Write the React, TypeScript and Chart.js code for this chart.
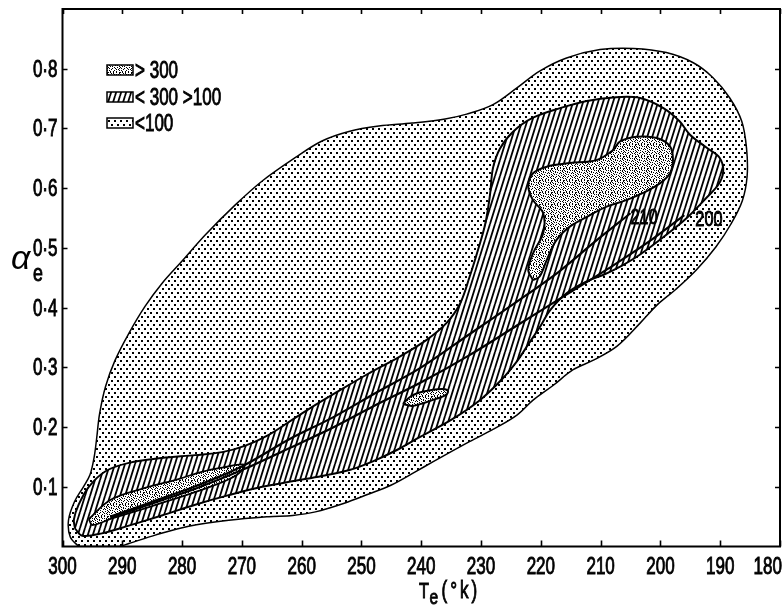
import React, { useEffect, useRef } from "react";
import { Chart, registerables } from "chart.js";

Chart.register(...registerables);

type Pt = [number, number]; // [T_e (K), alpha_e]

// Axis ticks
const T_TICKS = [300, 290, 280, 270, 260, 250, 240, 230, 220, 210, 200, 190, 180];
const ALPHA_TICKS = [0.1, 0.2, 0.3, 0.4, 0.5, 0.6, 0.7, 0.8];
const ALPHA_TICK_LABELS = ["0·1", "0·2", "0·3", "0·4", "0·5", "0·6", "0·7", "0·8"];

const LEGEND_LABELS = ["> 300", "< 300 >100", "<100"];
const LINE_LABELS = ["210", "200"];

// Outer contour: region of fewer than 100 counts
const OUTER_LT100: Pt[] = [
  [297.3, 0.0], [298.7, 0.016], [299.0, 0.044], [298.0, 0.075], [296.5, 0.1],
  [295.4, 0.12], [294.7, 0.15], [294.3, 0.18], [293.8, 0.222], [292.8, 0.268],
  [291.2, 0.312], [288.9, 0.357], [286.2, 0.402], [283.4, 0.44], [280.0, 0.478],
  [276.1, 0.522], [271.1, 0.572], [266.6, 0.612], [261.1, 0.651], [256.6, 0.679],
  [252.1, 0.695], [247.1, 0.704], [241.5, 0.709], [236.0, 0.716], [232.4, 0.724],
  [228.0, 0.74], [224.0, 0.768], [220.2, 0.796], [215.7, 0.818], [210.1, 0.832],
  [204.5, 0.834], [199.0, 0.827], [194.5, 0.81], [191.2, 0.785], [188.4, 0.751],
  [186.4, 0.712], [185.6, 0.667], [185.5, 0.62], [186.3, 0.579], [188.2, 0.54],
  [190.7, 0.502], [194.0, 0.463], [197.5, 0.43], [200.5, 0.405], [203.4, 0.374],
  [207.3, 0.335], [211.2, 0.312], [214.6, 0.296], [217.9, 0.27], [221.3, 0.245],
  [224.0, 0.22], [228.0, 0.196], [232.4, 0.173], [238.0, 0.142], [241.0, 0.125],
  [245.0, 0.103], [249.0, 0.087], [253.0, 0.072], [257.7, 0.058], [261.5, 0.052],
  [265.5, 0.05], [272.2, 0.044], [278.9, 0.034], [284.5, 0.019], [288.9, 0.005],
  [290.6, 0.0], [297.3, 0.0],
];

// Band between 100 and 300 counts
const BAND_100_300: Pt[] = [
  [297.9, 0.03], [296.7, 0.018], [293.4, 0.022], [288.9, 0.035], [283.4, 0.052],
  [277.8, 0.07], [272.2, 0.086], [266.6, 0.1], [261.1, 0.11], [256.6, 0.118],
  [252.0, 0.128], [248.0, 0.143], [244.0, 0.162], [240.5, 0.182], [235.0, 0.212],
  [230.2, 0.245], [226.5, 0.28], [224.0, 0.31], [222.0, 0.34], [220.0, 0.37],
  [218.5, 0.395], [215.7, 0.424], [212.3, 0.444], [209.5, 0.455], [206.5, 0.47],
  [203.4, 0.489], [199.0, 0.522], [195.6, 0.55], [192.3, 0.584], [190.3, 0.606],
  [189.5, 0.628], [190.1, 0.651], [192.3, 0.668], [195.1, 0.69], [196.8, 0.712],
  [199.5, 0.734], [203.4, 0.751], [207.9, 0.752], [212.3, 0.746], [216.8, 0.734],
  [221.3, 0.718], [224.6, 0.695], [226.8, 0.667], [228.0, 0.634], [228.5, 0.589],
  [229.3, 0.54], [230.5, 0.497], [231.9, 0.452], [233.5, 0.407], [235.8, 0.374],
  [239.1, 0.346], [243.6, 0.318], [249.1, 0.288], [254.7, 0.255], [258.5, 0.232],
  [261.6, 0.212], [265.5, 0.187], [269.4, 0.169], [273.3, 0.158], [277.8, 0.153],
  [283.4, 0.148], [288.9, 0.14], [292.8, 0.126], [295.6, 0.1], [297.3, 0.07],
  [298.1, 0.045], [297.9, 0.03],
];

// Regions above 300 counts
const PEAK_UPPER: Pt[] = [
  [221.3, 0.446], [222.1, 0.463], [221.3, 0.491], [219.6, 0.525], [219.6, 0.558],
  [221.3, 0.58], [222.1, 0.603], [221.3, 0.625], [219.0, 0.636], [215.1, 0.642],
  [210.7, 0.647], [207.9, 0.664], [206.8, 0.678], [204.0, 0.686], [200.6, 0.684],
  [198.4, 0.67], [197.9, 0.647], [198.4, 0.625], [200.1, 0.608], [202.9, 0.592],
  [205.7, 0.58], [209.0, 0.569], [212.3, 0.552], [215.1, 0.536], [217.4, 0.513],
  [219.0, 0.48], [220.2, 0.452], [221.3, 0.446],
];

const PEAK_MIDDLE: Pt[] = [
  [243.06, 0.2387], [241.89, 0.2504], [240.56, 0.2571], [238.21, 0.2621],
  [236.37, 0.2638], [235.54, 0.2605], [235.87, 0.2538], [237.54, 0.2471],
  [239.55, 0.2404], [241.56, 0.2354], [243.06, 0.2387],
];

const PEAK_LOWER: Pt[] = [
  [295.6, 0.046], [292.0, 0.078], [286.2, 0.098], [280.6, 0.113], [276.7, 0.125],
  [273.3, 0.132], [269.6, 0.137], [270.8, 0.12], [275.0, 0.101], [280.6, 0.082],
  [286.2, 0.064], [291.7, 0.047], [295.0, 0.036], [295.6, 0.046],
];

// Reference curves labelled 210 and 200
const LINE_210: Pt[] = [
  [292, 0.05], [285, 0.075], [278, 0.1], [270, 0.134], [262, 0.18], [255, 0.215],
  [248, 0.255], [240, 0.3], [232, 0.355], [224, 0.41], [217, 0.46], [211, 0.51],
  [205, 0.558],
];
const LINE_200: Pt[] = [
  [292, 0.048], [285, 0.072], [278, 0.096], [270, 0.128], [262, 0.165], [255, 0.198],
  [248, 0.235], [240, 0.275], [232, 0.32], [224, 0.37], [216, 0.42], [208, 0.47],
  [202, 0.51], [196, 0.555],
];

// Texture bitmap for the densest region
const SPECKLE_ROWS = [
  "#.#..#..#..#",
  "...#.#.....#",
  "#.....#.#.#.",
  ".#.#......#.",
  "...#.#..#..#",
  ".#.....#.#..",
  "..#.#......#",
  "#.....#..#..",
  ".#..#..#...#",
  "...#....#.#.",
  ".#....#....#",
  "..#..#..#...",
];

const FONT = "'Liberation Sans', Arial, sans-serif";
const NARROW = 0.74;

function tile(w: number, h: number, paint: (g: CanvasRenderingContext2D) => void): HTMLCanvasElement {
  const c = document.createElement("canvas");
  c.width = w;
  c.height = h;
  const g = c.getContext("2d")!;
  g.fillStyle = "#fff";
  g.fillRect(0, 0, w, h);
  g.fillStyle = "#000";
  g.strokeStyle = "#000";
  paint(g);
  return c;
}

function narrowText(
  ctx: CanvasRenderingContext2D,
  text: string,
  x: number,
  y: number,
  size: number,
  align: CanvasTextAlign = "left",
  spacing = 0
) {
  ctx.save();
  ctx.font = `${size}px ${FONT}`;
  ctx.textAlign = align;
  ctx.textBaseline = "alphabetic";
  (ctx as any).letterSpacing = `${spacing}px`;
  ctx.translate(x, y);
  ctx.scale(NARROW, 1);
  ctx.fillStyle = "#000";
  ctx.strokeStyle = "#000";
  ctx.lineWidth = 0.9;
  ctx.fillText(text, 0, 0);
  ctx.strokeText(text, 0, 0);
  ctx.restore();
}

function textWidth(ctx: CanvasRenderingContext2D, text: string, size: number) {
  ctx.save();
  ctx.font = `${size}px ${FONT}`;
  const w = ctx.measureText(text).width * NARROW;
  ctx.restore();
  return w;
}

const toXY = (pts: Pt[]) => pts.map(([x, y]) => ({ x, y }));

export default function App() {
  const ref = useRef<HTMLCanvasElement | null>(null);

  useEffect(() => {
    const canvas = ref.current!;
    const ctx = canvas.getContext("2d")!;

    const dots = ctx.createPattern(
      tile(6, 8, (g) => {
        g.fillRect(0, 0, 2, 2);
        g.fillRect(3, 4, 2, 2);
      }),
      "repeat"
    )!;
    const hatch = ctx.createPattern(
      tile(5, 16, (g) => {
        g.lineWidth = 1.8;
        g.beginPath();
        for (const off of [-5, 0, 5]) {
          g.moveTo(off, 16);
          g.lineTo(off + 5, 0);
        }
        g.stroke();
      }),
      "repeat"
    )!;
    const speckle = ctx.createPattern(
      tile(12, 12, (g) => {
        SPECKLE_ROWS.forEach((row, r) => {
          for (let c = 0; c < row.length; c++) if (row[c] === "#") g.fillRect(c, r, 1, 1);
        });
      }),
      "repeat"
    )!;

    const region = (pts: Pt[], fill: CanvasPattern, width: number, order: number) => ({
      data: toXY(pts),
      showLine: true,
      fill: "shape" as const,
      backgroundColor: fill,
      borderColor: "#000",
      borderWidth: width,
      pointRadius: 0,
      tension: 0.35,
      order,
    });
    const curve = (pts: Pt[]) => ({
      data: toXY(pts),
      showLine: true,
      fill: false,
      borderColor: "#000",
      borderWidth: 2.2,
      pointRadius: 0,
      tension: 0.3,
      order: 1,
    });

    const decorations = {
      id: "decorations",
      afterDatasetsDraw(chart: Chart) {
        const c = chart.ctx;
        const a = chart.chartArea;
        const xs = chart.scales.x;
        const ys = chart.scales.y;
        c.save();
        c.fillStyle = "#000";
        c.strokeStyle = "#000";

        // curve labels at the upper ends
        const ends = [LINE_210[LINE_210.length - 1], LINE_200[LINE_200.length - 1]];
        const offsets = [0, 11];
        ends.forEach(([t, v], i) => {
          narrowText(c, LINE_LABELS[i], xs.getPixelForValue(t) + offsets[i], ys.getPixelForValue(v) + 11, 22);
        });

        // frame
        c.lineWidth = 2;
        c.strokeRect(a.left, a.top, a.right - a.left, a.bottom - a.top);

        // inward ticks on all four sides
        c.lineWidth = 1.6;
        c.beginPath();
        T_TICKS.forEach((t) => {
          const px = Math.round(xs.getPixelForValue(t)) + 0.5;
          c.moveTo(px, a.bottom);
          c.lineTo(px, a.bottom - 6);
          c.moveTo(px, a.top);
          c.lineTo(px, a.top + 5);
        });
        ALPHA_TICKS.forEach((v) => {
          const py = Math.round(ys.getPixelForValue(v)) + 0.5;
          c.moveTo(a.left, py);
          c.lineTo(a.left + 5, py);
          c.moveTo(a.right, py);
          c.lineTo(a.right - 5, py);
        });
        c.stroke();

        // tick labels
        const W = chart.width;
        T_TICKS.forEach((t) => {
          const label = String(t);
          const w = textWidth(c, label, 23);
          let px = xs.getPixelForValue(t);
          px = Math.min(px, W - w / 2);
          narrowText(c, label, px, 574, 23, "center");
        });
        ALPHA_TICKS.forEach((v, i) => {
          narrowText(c, ALPHA_TICK_LABELS[i], a.left - 5, ys.getPixelForValue(v) + 8, 23, "right");
        });

        // axis titles
        c.font = `italic 34px ${FONT}`;
        c.textAlign = "left";
        c.textBaseline = "alphabetic";
        c.fillText("α", 11, 269);
        narrowText(c, "e", 33, 281, 24);

        narrowText(c, "T", 419, 598, 22);
        const tw = textWidth(c, "T", 22);
        narrowText(c, "e", 419 + tw + 0.5, 604, 21);
        const ew = textWidth(c, "e", 21);
        narrowText(c, "(°k)", 419 + tw + ew + 4, 598, 23, "left", 4);

        // legend
        const fills = [speckle, hatch, dots];
        const rows = [70, 97, 123];
        rows.forEach((cy, i) => {
          c.fillStyle = fills[i];
          c.fillRect(107, cy - 5, 26, 10);
          c.lineWidth = 1.5;
          c.strokeStyle = "#000";
          c.strokeRect(107, cy - 5, 26, 10);
          narrowText(c, LEGEND_LABELS[i], 135, cy + 8, 23);
        });
        c.restore();
      },
    };

    const chart = new Chart(canvas, {
      type: "scatter",
      data: {
        datasets: [
          curve(LINE_210),
          curve(LINE_200),
          region(PEAK_UPPER, speckle, 2, 2),
          region(PEAK_MIDDLE, speckle, 2, 2),
          region(PEAK_LOWER, speckle, 1.8, 2),
          region(BAND_100_300, hatch, 2, 3),
          region(OUTER_LT100, dots, 1.5, 4),
        ] as any,
      },
      options: {
        animation: false,
        responsive: false,
        devicePixelRatio: 1,
        events: [],
        layout: { padding: { top: 9, right: 2, left: 0, bottom: 0 } },
        plugins: { legend: { display: false }, tooltip: { enabled: false } },
        scales: {
          x: {
            type: "linear",
            reverse: true,
            min: 180,
            max: 300,
            ticks: { display: false, stepSize: 10 },
            grid: { display: false },
            border: { display: false },
            afterFit: (s: any) => {
              s.height = 58.5;
              s.paddingLeft = 0;
              s.paddingRight = 0;
            },
          },
          y: {
            type: "linear",
            min: 0,
            max: 0.9,
            ticks: { display: false, stepSize: 0.1 },
            grid: { display: false },
            border: { display: false },
            afterFit: (s: any) => {
              s.width = 62.5;
              s.paddingTop = 0;
              s.paddingBottom = 0;
            },
          },
        },
      },
      plugins: [decorations],
    });

    return () => chart.destroy();
  }, []);

  return (
    <div style={{ position: "fixed", left: 0, top: 0, width: 782, height: 605, background: "#fff" }}>
      <canvas ref={ref} width={782} height={605} style={{ display: "block", width: 782, height: 605 }} />
    </div>
  );
}
